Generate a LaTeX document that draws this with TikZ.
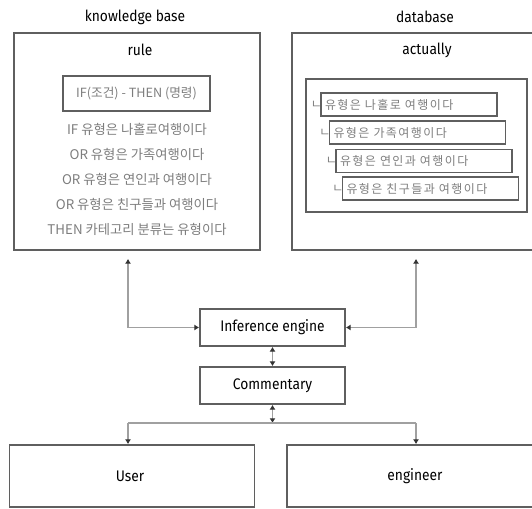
\documentclass[tikz,border=0pt]{standalone}
\usepackage{fontspec}
\setmainfont{Fira Sans}[FakeStretch=0.9]
\newfontfamily\kofont{Noto Sans CJK KR}
\newfontfamily\kowide{Noto Sans CJK KR}[LetterSpace=12]
\usepackage{tikz}
\usetikzlibrary{
	arrows.meta,
	calc,
	positioning
}
\definecolor{BoxGray}{RGB}{95,95,95}
\definecolor{LineGray}{RGB}{160,160,160}
\definecolor{KoGray}{RGB}{125,125,125}

\tikzset{
	box/.style={draw=BoxGray, line width=1.3pt, inner sep=0pt},
	link/.style={draw=LineGray, line width=1.3pt, arrows={-}, >={Latex[length=3.5pt,width=4.5pt,color=black!80]}},
	title/.style={font=\fontsize{11.5}{13}\selectfont},
	kotext/.style={font=\kofont\fontsize{10}{12}\selectfont, text=KoGray},
	rowbox/.style={box, line width=1.1pt, text width=126pt, inner xsep=3pt, align=left, minimum height=17.25pt, font=\kowide\fontsize{9}{11}\selectfont, text=KoGray},
	hook/.style={font=\kofont\fontsize{9}{11}\selectfont, text=KoGray, inner sep=0pt},
}

\begin{document}
\begin{tikzpicture}[x=0.75pt, y=-0.75pt]
	\useasboundingbox (0,0) rectangle (532,509);
	\clip (0,0) rectangle (532,509);

	% 지식 베이스
	\node[title] (kbtitle) at (135,17) {knowledge base};
	\node[box, minimum width=184.5pt, minimum height=162.75pt] (kb) at (137,141.5) {};
	\node[title] (rule) at (140,50) {rule};
	\node[box, line width=1.1pt, minimum width=110.25pt, minimum height=26.25pt, kotext, font=\kofont\fontsize{9.5}{11}\selectfont] (ifthen) at (136.5,93.5) {IF(조건) - THEN (명령)};
	\node[kotext] (r1) at (137,129) {IF 유형은 나홀로여행이다};
	\node[kotext] (r2) at (137,154) {OR 유형은 가족여행이다};
	\node[kotext] (r3) at (137,179) {OR 유형은 연인과 여행이다};
	\node[kotext] (r4) at (137,204) {OR 유형은 친구들과 여행이다};
	\node[kotext] (r5) at (137,229) {THEN 카테고리 분류는 유형이다};

	% 데이터베이스
	\node[title] (dbtitle) at (425,17) {database};
	\node[box, minimum width=202.5pt, minimum height=162.75pt] (db) at (427,141.5) {};
	\node[title] (actually) at (427,50) {actually};
	\node[box, minimum width=165.75pt, minimum height=99.75pt] (facts) at (416.5,145.5) {};
	\node[rowbox, label={[hook, label distance=-1.5pt]left:ㄴ}] (f1) at (409,104.5) {유형은 나홀로 여행이다};
	\node[rowbox, label={[hook, label distance=-1.5pt]left:ㄴ}] (f2) at (417.5,132.5) {유형은 가족여행이다};
	\node[rowbox, label={[hook, label distance=-1.5pt]left:ㄴ}] (f3) at (424,161) {유형은 연인과 여행이다};
	\node[rowbox, label={[hook, label distance=-1.5pt]left:ㄴ}] (f4) at (430.5,188.5) {유형은 친구들과 여행이다};

	% 추론 엔진, 설명
	\node[box, title, minimum width=108.75pt, minimum height=27.75pt] (infer) at (272.5,327.5) {Inference engine};
	\node[box, title, minimum width=108.75pt, minimum height=27.75pt] (comment) at (272.5,385.5) {Commentary};

	% 사용자, 엔지니어
	\node[box, title, minimum width=183.75pt, minimum height=46.5pt] (user) at (132,476) {};
	\node[title] (usertext) at (130,476) {User};
	\node[box, title, minimum width=192pt, minimum height=46.5pt] (engineer) at (415,476) {};
	\node[title] (engtext) at (415,476) {engineer};

	\coordinate (kbturn) at (128,327.5);
	\coordinate (dbturn) at (416,327.5);
	\coordinate (split) at (272.5,423);
	\coordinate (userin) at (128,423);
	\coordinate (engin) at (416,423);

	\draw[link, <->, shorten <=6pt] (kb.south -| kbturn) -- (kbturn) -- (infer.west);
	\draw[link, <->, shorten <=6pt] (db.south -| dbturn) -- (dbturn) -- (infer.east);
	\draw[link, <->] (infer) -- (comment);
	\draw[link, <->] (comment) -- (split);
	\draw[link] (userin) -- (engin);
	\draw[link, ->] (userin) -- (user.north -| userin);
	\draw[link, ->] (engin) -- (engineer.north -| engin);
\end{tikzpicture}
\end{document}
